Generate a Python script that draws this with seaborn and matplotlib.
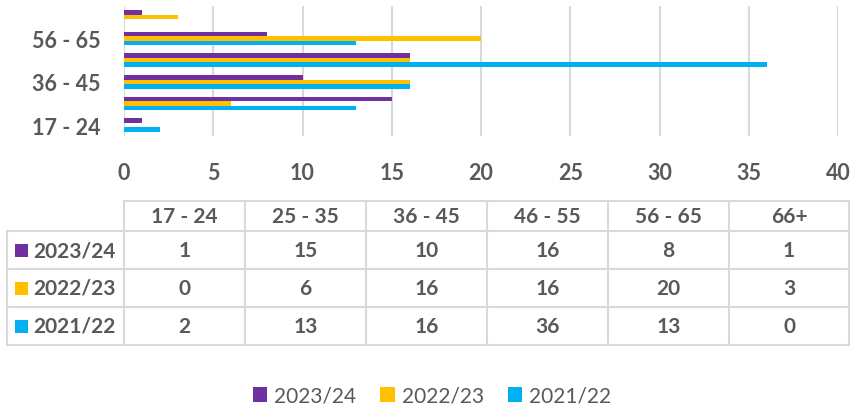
import matplotlib
matplotlib.use("Agg")
import matplotlib.pyplot as plt
from matplotlib.patches import Patch, Rectangle
import seaborn as sns
import pandas as pd

categories = ["17 - 24", "25 - 35", "36 - 45", "46 - 55", "56 - 65", "66+"]
series_names = ["2023/24", "2022/23", "2021/22"]
values_2023_24 = [1, 15, 10, 16, 8, 1]
values_2022_23 = [0, 6, 16, 16, 20, 3]
values_2021_22 = [2, 13, 16, 36, 13, 0]
x_ticks = [0, 5, 10, 15, 20, 25, 30, 35, 40]
shown_y_labels = ["17 - 24", "36 - 45", "56 - 65"]

colors = ["#7030A0", "#FFC000", "#00B0F0"]
text_color = "#595959"
grid_color = "#D9D9D9"

sns.set_theme(style="white")
plt.rcParams["font.family"] = ["Lato", "DejaVu Sans"]

series_values = [values_2023_24, values_2022_23, values_2021_22]
rows = []
for name, vals in zip(series_names, series_values):
    for c, v in zip(categories, vals):
        rows.append({"Age": c, "Year": name, "Count": v})
df = pd.DataFrame(rows)

W, H = 852, 410
fig = plt.figure(figsize=(W / 100, H / 100), dpi=100)
ax = fig.add_axes([124 / W, 1 - 137 / H, (838 - 124) / W, 130 / H])

order = categories[::-1]
sns.barplot(data=df, y="Age", x="Count", hue="Year", order=order,
            hue_order=series_names, palette=colors, orient="h",
            width=0.62, ax=ax, legend=False, saturation=1, linewidth=0)

ax.set_xlim(0, 40)
ax.set_ylim(5.5, -0.5)
ax.set_xticks(x_ticks)
ax.set_xticklabels([str(t) for t in x_ticks])
ax.set_yticks(range(len(order)))
ax.set_yticklabels([c if c in shown_y_labels else "" for c in order])
ax.grid(axis="x", color=grid_color, linewidth=1.5)
ax.grid(axis="y", visible=False)
ax.set_axisbelow(True)
for s in ax.spines.values():
    s.set_visible(False)
ax.tick_params(axis="both", length=0, labelsize=15.5, labelcolor=text_color)
ax.tick_params(axis="x", pad=19)
ax.tick_params(axis="y", pad=17)
for lbl in ax.get_xticklabels() + ax.get_yticklabels():
    lbl.set_fontweight("bold")
ax.set_xlabel("")
ax.set_ylabel("")

# Data table overlay in pixel coordinates
ov = fig.add_axes([0, 0, 1, 1])
ov.set_xlim(0, W)
ov.set_ylim(H, 0)
ov.axis("off")
ov.patch.set_alpha(0)

col_edges = [124, 245, 366, 487, 608, 729, 849]
row_edges = [202, 232, 270, 308, 346]
left_edge = 7
lw = 1.5
ov.plot([col_edges[0], col_edges[-1]], [row_edges[0]] * 2, color=grid_color, lw=lw)
for r in row_edges[1:]:
    ov.plot([left_edge, col_edges[-1]], [r, r], color=grid_color, lw=lw)
for cx in col_edges:
    ov.plot([cx, cx], [row_edges[0], row_edges[-1]], color=grid_color, lw=lw)
ov.plot([left_edge, left_edge], [row_edges[1], row_edges[-1]], color=grid_color, lw=lw)

fs = 15
for i, c in enumerate(categories):
    xc = (col_edges[i] + col_edges[i + 1]) / 2
    ov.text(xc, (row_edges[0] + row_edges[1]) / 2, c, ha="center", va="center",
            fontsize=fs, fontweight="bold", color=text_color)
for j, (name, vals) in enumerate(zip(series_names, series_values)):
    yc = (row_edges[j + 1] + row_edges[j + 2]) / 2
    ov.add_patch(Rectangle((15, yc - 6.5), 13, 13, color=colors[j], lw=0))
    ov.text(33, yc, name, ha="left", va="center", fontsize=fs,
            fontweight="bold", color=text_color)
    for i, v in enumerate(vals):
        xc = (col_edges[i] + col_edges[i + 1]) / 2
        ov.text(xc, yc, str(v), ha="center", va="center", fontsize=fs,
                fontweight="bold", color=text_color)

handles = [Patch(facecolor=c, edgecolor="none", label=n) for c, n in zip(colors, series_names)]
leg = fig.legend(handles=handles, loc="center", bbox_to_anchor=(432 / W, 1 - 397 / H),
                 ncol=3, frameon=False, fontsize=15, handlelength=0.7, handleheight=0.7,
                 handletextpad=0.33, columnspacing=1.15)
for t in leg.get_texts():
    t.set_color(text_color)

fig.savefig("out.png", dpi=100)
